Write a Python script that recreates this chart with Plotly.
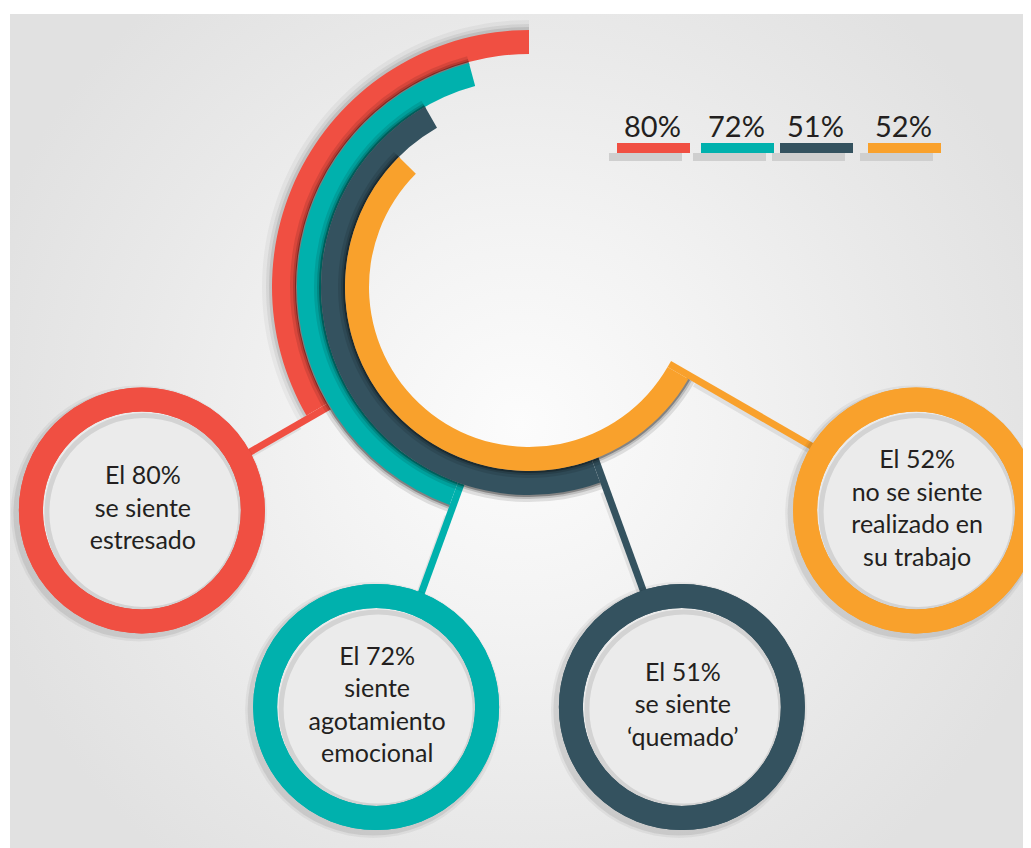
import base64
import math
import plotly.graph_objects as go

# ---------------- data ----------------
values = [80, 72, 51, 52]
descriptions = [
    "se siente<br>estresado",
    "siente<br>agotamiento<br>emocional",
    "se siente<br>‘quemado’",
    "no se siente<br>realizado en<br>su trabajo",
]

# ---------------- styling / layout config ----------------
colors = ["#F04F42", "#00B1AD", "#34525F", "#F9A12C"]
arc_start = [0, 15, 30, 45]          # degrees, counter-clockwise from 12 o'clock
arc_end = [120, 160, 200, 240]
ring_outer = [257, 232, 208, 184]
ring_width = 24
W, H = 1031, 848
OFF = 8                               # page offset of the plot div (body margin)
CX, CY = 529, 287                     # arc centre in page pixels
RMAX = 270
bubble_dist = 447
bubble_marker = 222
bubble_lw = 24
bubble_outer = bubble_marker / 2 + bubble_lw / 2
legend_x0 = [617, 701, 780, 868]
legend_w = 73
text_color = "#231F20"
font_family = "Lato"


def pos(theta_deg, r):
    t = math.radians(theta_deg)
    return CX - r * math.sin(t), CY - r * math.cos(t)


fig = go.Figure()

# ---------- connectors (cartesian, under arcs) ----------
for i in range(len(values)):
    th = math.radians(arc_end[i])
    px, py = -math.cos(th), math.sin(th)
    off = 3.5
    r0 = ring_outer[i] - ring_width
    r1 = bubble_dist - bubble_outer + 6
    x0, y0 = pos(arc_end[i], r0)
    xs, ys = pos(arc_end[i], ring_outer[i] + 8)
    x1, y1 = pos(arc_end[i], r1)
    fig.add_trace(go.Scatter(
        x=[xs + off * px - 2, x1 + off * px - 2], y=[ys + off * py + 3, y1 + off * py + 3],
        mode="lines", line=dict(color="rgba(0,0,0,0.08)", width=8),
        hoverinfo="skip", showlegend=False))
    fig.add_trace(go.Scatter(
        x=[x0 + off * px, x1 + off * px], y=[y0 + off * py, y1 + off * py],
        mode="lines", line=dict(color=colors[i], width=7),
        hoverinfo="skip", showlegend=False))

# ---------- bubbles ----------
for i, (v, d) in enumerate(zip(values, descriptions)):
    bx, by = pos(arc_end[i], bubble_dist)
    for s, a in [(bubble_outer * 2 + 10, 0.05), (bubble_outer * 2 + 5, 0.08)]:
        fig.add_trace(go.Scatter(
            x=[bx - 3], y=[by + 3], mode="markers",
            marker=dict(size=s, color=f"rgba(0,0,0,{a})", line=dict(width=0)),
            hoverinfo="skip", showlegend=False))
    fig.add_trace(go.Scatter(
        x=[bx], y=[by], mode="markers",
        marker=dict(size=bubble_marker, color="#EBEBEB",
                    line=dict(color=colors[i], width=bubble_lw)),
        hoverinfo="skip", showlegend=False))
    inner_r = bubble_marker / 2 - bubble_lw / 2
    fig.add_trace(go.Scatter(
        x=[bx + 2], y=[by + 2], mode="markers",
        marker=dict(size=inner_r * 2 - 4, color="rgba(0,0,0,0)",
                    line=dict(color="rgba(0,0,0,0.10)", width=5)),
        hoverinfo="skip", showlegend=False))
    fig.add_trace(go.Scatter(
        x=[bx], y=[by], mode="markers",
        marker=dict(size=bubble_marker, color="rgba(0,0,0,0)",
                    line=dict(color=colors[i], width=bubble_lw)),
        hoverinfo="skip", showlegend=False))
    fig.add_trace(go.Scatter(
        x=[bx + 1], y=[by], mode="text", text=[f"El {v}%<br>{d}"],
        textposition="middle center",
        textfont=dict(family=font_family, size=25, color=text_color),
        hoverinfo="skip", showlegend=False))

# ---------- arcs (polar bars) ----------
for i in range(len(values)):
    mid = (arc_start[i] + arc_end[i]) / 2
    span = arc_end[i] - arc_start[i]
    outer = ring_outer[i]
    shade = [(7, 0.10), (4, 0.15), (2, 0.30)] if i > 0 else [(10, 0.04), (6, 0.06), (3, 0.09)]
    for extra, a in shade:
        fig.add_trace(go.Barpolar(
            theta=[mid], width=[span], base=[outer - 2], r=[extra + 2],
            marker=dict(color=f"rgba(0,0,0,{a})", line=dict(width=0)),
            hoverinfo="skip", showlegend=False, subplot="polar"))
    fig.add_trace(go.Barpolar(
        theta=[mid], width=[span], base=[outer - ring_width], r=[ring_width],
        marker=dict(color=colors[i], line=dict(width=0)),
        hoverinfo="skip", showlegend=False, subplot="polar"))

# ---------- header percentages ----------
shapes = []
annotations = []
for i, v in enumerate(values):
    x0 = legend_x0[i]
    shapes.append(dict(type="rect", xref="x", yref="y", x0=x0 - 8, x1=x0 - 8 + legend_w,
                       y0=153, y1=161, fillcolor="#CFCFCF", line=dict(width=0), layer="above"))
    shapes.append(dict(type="rect", xref="x", yref="y", x0=x0, x1=x0 + legend_w,
                       y0=143, y1=153, fillcolor=colors[i], line=dict(width=0), layer="above"))
    annotations.append(dict(x=x0 + legend_w / 2 - 1, y=125, xref="x", yref="y",
                            text=f"{v}%", showarrow=False,
                            font=dict(family=font_family, size=29, color=text_color)))

# ---------- background panel ----------
PX0, PY0 = 10, 14
pw, ph = W + OFF - PX0, H + OFF - PY0
gcx, gcy = 520 - PX0, 425 - PY0
svg = f'''<svg xmlns="http://www.w3.org/2000/svg" width="{pw}" height="{ph}" viewBox="0 0 {pw} {ph}">
<defs><radialGradient id="g" gradientUnits="userSpaceOnUse" cx="{gcx}" cy="{gcy}" r="560">
<stop offset="0" stop-color="#FCFCFC"/><stop offset="0.35" stop-color="#F3F3F3"/>
<stop offset="0.7" stop-color="#E9E9E9"/><stop offset="1" stop-color="#E1E1E1"/>
</radialGradient></defs>
<rect width="{pw}" height="{ph}" fill="#E1E1E1"/>
<rect width="{pw}" height="{ph}" fill="url(#g)"/></svg>'''
src = "data:image/svg+xml;base64," + base64.b64encode(svg.encode("utf-8")).decode("ascii")

fig.update_layout(
    width=W, height=H,
    margin=dict(l=0, r=0, t=0, b=0),
    paper_bgcolor="white",
    plot_bgcolor="rgba(0,0,0,0)",
    showlegend=False,
    xaxis=dict(range=[OFF, W + OFF], visible=False, domain=[0, 1], fixedrange=True),
    yaxis=dict(range=[H + OFF, OFF], visible=False, domain=[0, 1], fixedrange=True),
    polar=dict(
        domain=dict(x=[(CX - RMAX - OFF) / W, (CX + RMAX - OFF) / W],
                    y=[1 - (CY + RMAX - OFF) / H, 1 - (CY - RMAX - OFF) / H]),
        bgcolor="rgba(0,0,0,0)",
        radialaxis=dict(range=[0, RMAX], visible=False, showgrid=False),
        angularaxis=dict(rotation=90, direction="counterclockwise", visible=False,
                         showgrid=False),
        barmode="overlay",
    ),
    images=[dict(source=src, xref="paper", yref="paper", x=(PX0 - OFF) / W,
                 y=1 - (PY0 - OFF) / H, sizex=pw / W, sizey=ph / H,
                 xanchor="left", yanchor="top", sizing="stretch", layer="below")],
    shapes=shapes,
    annotations=annotations,
)

fig.write_html("out.html")
